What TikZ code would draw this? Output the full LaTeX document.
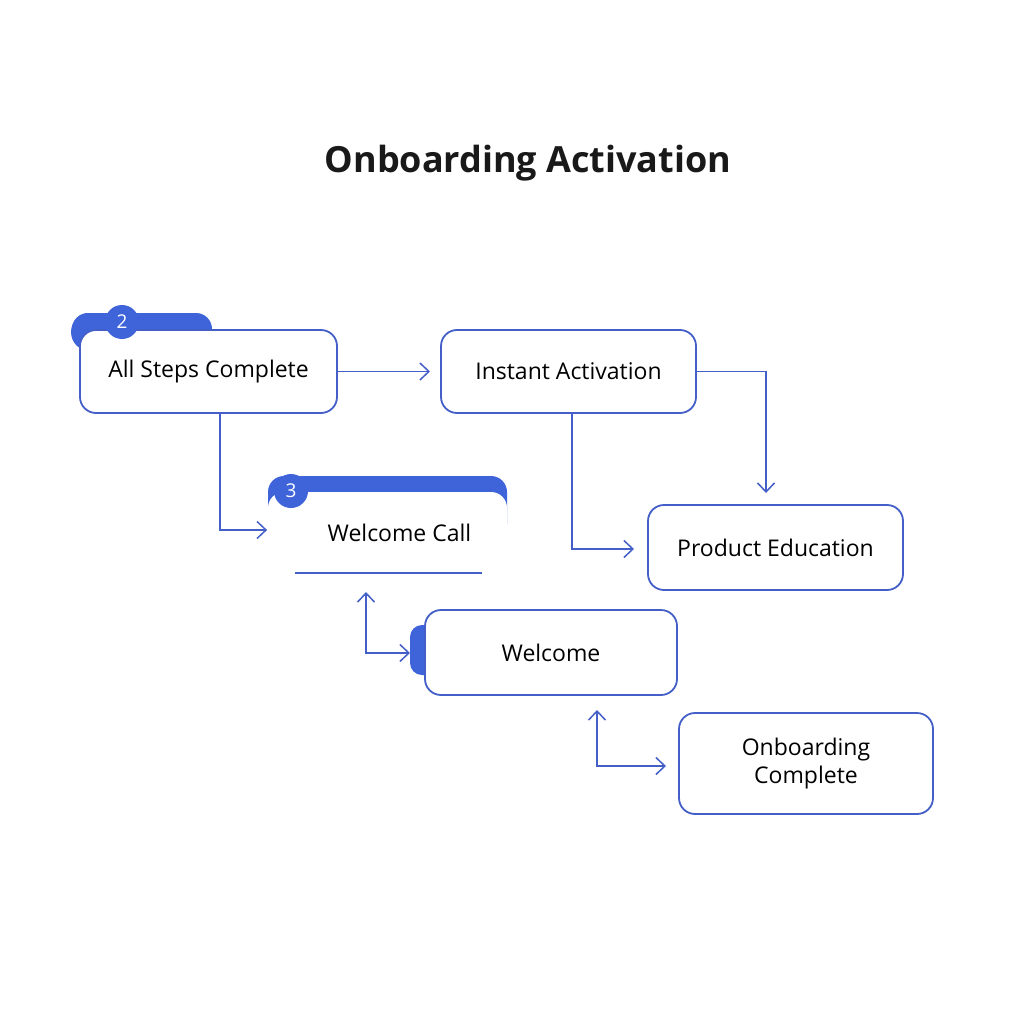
\documentclass[tikz,border=0pt]{standalone}
\usepackage{fontspec}
\setmainfont{Open Sans}
\usetikzlibrary{arrows.meta}
\definecolor{bl}{HTML}{4460C8}
\definecolor{bf}{HTML}{3F63D8}
\begin{document}
\begin{tikzpicture}[x=1pt,y=-1pt,
  box/.style={draw=bl,line width=1.8pt,rounded corners=16pt,fill=white,font=\fontsize{23}{28}\selectfont,align=center,inner sep=0},
  conn/.style={draw=bl,line width=1.5pt,-{Straight Barb[length=9pt,width=17pt]}},
  conn2/.style={draw=bl,line width=1.5pt,{Straight Barb[length=9pt,width=17pt]}-{Straight Barb[length=9pt,width=17pt]}},
  badge/.style={circle,fill=bf,text=white,minimum size=34pt,inner sep=0,font=\fontsize{19}{22}\selectfont}]
\useasboundingbox (0,0) rectangle (1024,1024);
\fill[white] (0,0) rectangle (1024,1024);
\node[font=\fontsize{36}{42}\selectfont\bfseries,text=black!90] (title) at (528,163) {Onboarding Activation};
% tabs
\fill[bf,rounded corners=16pt] (72,313) rectangle (212,350);
\fill[bf] (90,332) circle (19pt);
\fill[bf,rounded corners=16pt] (268,476) rectangle (507,540);
\fill[bf,rounded corners=12pt] (410,625) rectangle (440,675);
% boxes
\node[box,minimum width=257pt,minimum height=83pt] (A) at (208.5,371.5) {All Steps Complete};
\node[box,minimum width=255pt,minimum height=83pt] (B) at (568.5,371.5) {Instant Activation};
\node[box,draw=none,minimum width=239pt,minimum height=81pt] (C) at (387.5,532.5) {\hspace*{24pt}Welcome Call};
\draw[bl,line width=1.8pt] (295,573) -- (482,573);
\node[box,minimum width=255pt,minimum height=85pt] (D) at (775.5,547.5) {Product Education};
\node[box,minimum width=252pt,minimum height=85pt] (E) at (551,652.5) {Welcome};
\node[box,minimum width=254pt,minimum height=101pt] (F) at (806,763.5) {Onboarding\\Complete};
\node[badge] (b2) at (122,322) {2};
\node[badge] (b3) at (291,491) {3};
\coordinate (el) at (410,653);
\coordinate (cb) at (366,592);
\coordinate (eb) at (597,710);
\coordinate (fl) at (666,766);
% connectors
\draw[conn] (A.east) -- (430,371.5);
\draw[conn] (A.south -| 220,0) -- (220,530) -- (C.west |- 0,530);
\draw[conn] (B.east) -- (766,371.5) -- (766,493);
\draw[conn] (B.south -| 572,0) -- (572,549) -- (634,549);
\draw[conn2] (el) -- (366,653) -- (cb);
\draw[conn2] (fl) -- (597,766) -- (eb);
\end{tikzpicture}
\end{document}
